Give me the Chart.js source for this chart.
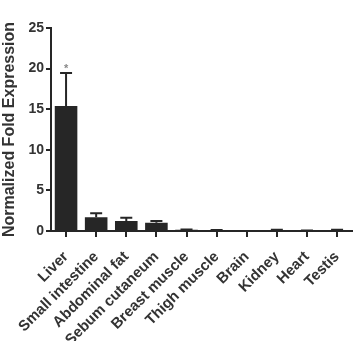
<!DOCTYPE html>
<html>
<head>
<meta charset="utf-8">
<script src="https://cdn.jsdelivr.net/npm/chart.js@4/dist/chart.umd.min.js"></script>
<style>
  html, body { margin: 0; padding: 0; background: #fff; }
  #wrap { width: 361px; height: 341px; position: relative; }
</style>
</head>
<body>
<div id="wrap"><canvas id="chart"></canvas></div>
<script>
const tissues = ['Liver', 'Small intestine', 'Abdominal fat', 'Sebum cutaneum', 'Breast muscle', 'Thigh muscle', 'Brain', 'Kidney', 'Heart', 'Testis'];
const foldExpression = [15.4, 1.7, 1.23, 1.02, 0.15, 0.1, 0, 0.12, 0.05, 0.12];
const errorUpper = [4.05, 0.48, 0.4, 0.2, 0.04, 0.03, 0, 0.04, 0.02, 0.03];
const significance = ['*', '', '', '', '', '', '', '', '', ''];
const yTicks = [0, 5, 10, 15, 20, 25];

const ink = '#262626';
const font = "'Liberation Sans', Arial, sans-serif";

const errorBars = {
    id: 'errorBars',
    afterDatasetsDraw(chart) {
        const ctx = chart.ctx;
        const yScale = chart.scales.y;
        const meta = chart.getDatasetMeta(0);
        ctx.save();
        ctx.strokeStyle = ink;
        ctx.lineWidth = 2;
        meta.data.forEach((bar, i) => {
            const err = errorUpper[i];
            const top = yScale.getPixelForValue(foldExpression[i] + err);
            if (err > 0) {
                ctx.beginPath();
                ctx.moveTo(bar.x, bar.y);
                ctx.lineTo(bar.x, top);
                ctx.moveTo(bar.x - 6, top);
                ctx.lineTo(bar.x + 6, top);
                ctx.stroke();
            }
            if (significance[i]) {
                ctx.fillStyle = '#888';
                ctx.font = `bold 11px ${font}`;
                ctx.textAlign = 'center';
                ctx.fillText(significance[i], bar.x, top - 1);
            }
        });
        ctx.restore();
    }
};

new Chart(document.getElementById('chart'), {
    type: 'bar',
    data: {
        labels: tissues,
        datasets: [{
            data: foldExpression,
            backgroundColor: ink,
            borderWidth: 0,
            barPercentage: 0.75,
            categoryPercentage: 1
        }]
    },
    options: {
        responsive: true,
        maintainAspectRatio: false,
        animation: false,
        devicePixelRatio: 1,
        layout: { padding: { top: 28, right: 4, left: 0, bottom: 0 } },
        plugins: { legend: { display: false }, tooltip: { enabled: false } },
        scales: {
            x: {
                grid: { display: true, offset: false, drawOnChartArea: false, tickLength: 6, tickColor: ink, lineWidth: 2 },
                border: { display: true, color: ink, width: 2 },
                ticks: { color: '#333', font: { family: font, size: 15, weight: 'bold' }, maxRotation: 45, minRotation: 45, padding: 11, autoSkip: false },
                afterFit(scale) { scale.height = 110; }
            },
            y: {
                min: 0,
                max: 25,
                afterBuildTicks(scale) { scale.ticks = yTicks.map(v => ({ value: v })); },
                grid: { display: true, drawOnChartArea: false, tickLength: 5, tickColor: ink, lineWidth: 2 },
                border: { display: true, color: ink, width: 2 },
                ticks: { color: '#333', font: { family: font, size: 14, weight: 'bold' }, padding: 2 },
                title: { display: true, text: 'Normalized Fold Expression', color: '#333', font: { family: font, size: 16, weight: 'bold' }, padding: { top: 0, bottom: 2 } },
                afterFit(scale) { scale.width = 51; }
            }
        }
    },
    plugins: [errorBars]
});
</script>
</body>
</html>
